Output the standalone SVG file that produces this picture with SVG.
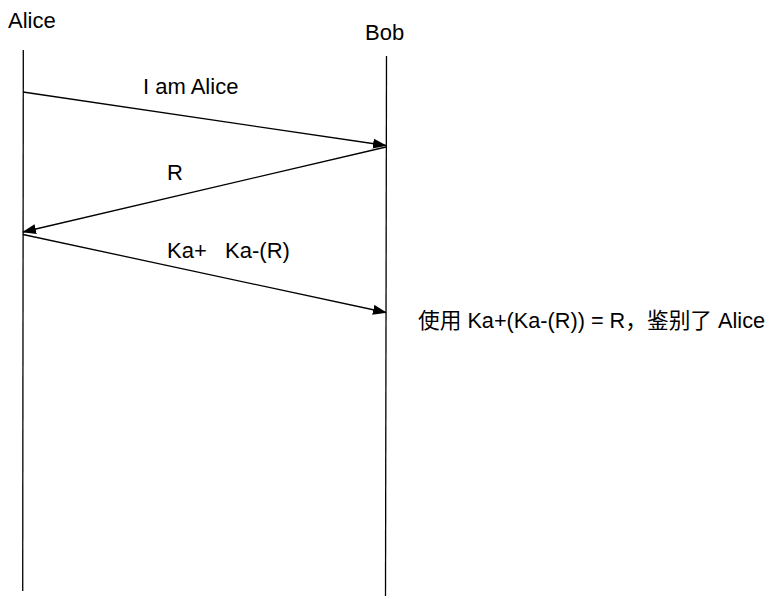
<svg xmlns="http://www.w3.org/2000/svg" width="774" height="599" viewBox="0 0 774 599">
  <style>
    .t { font-family: "Liberation Sans", Arial, "Noto Sans CJK SC", sans-serif; font-size: 22px; fill: #000; }
    .note { font-size: 21.7px; }
    .life { stroke: #000; stroke-width: 1.3; fill: none; }
    .msg { stroke: #000; stroke-width: 1.3; fill: none; marker-end: url(#arrow); }
  </style>
  <defs>
    <marker id="arrow" viewBox="0 0 14 10" refX="13" refY="5" markerWidth="14" markerHeight="10" markerUnits="userSpaceOnUse" orient="auto">
      <path d="M0,0 L14,5 L0,10 Z" fill="#000"/>
    </marker>
  </defs>
  <rect width="774" height="599" fill="#fff"/>
  <g id="alice">
    <text class="t" x="8" y="28">Alice</text>
    <line class="life" x1="23.3" y1="50" x2="22.7" y2="591"/>
  </g>
  <g id="bob">
    <text class="t" x="365" y="40">Bob</text>
    <line class="life" x1="386.5" y1="56" x2="385.5" y2="596"/>
  </g>
  <g id="connectors">
    <line class="msg" x1="23" y1="92" x2="386" y2="145.5"/>
    <line class="msg" x1="386" y1="147" x2="23" y2="232"/>
    <line class="msg" x1="23" y1="234.5" x2="386" y2="312.5"/>
  </g>
  <g id="labels">
    <text class="t" x="143" y="94">I am Alice</text>
    <text class="t" x="167" y="180">R</text>
    <text class="t" x="167" y="258" xml:space="preserve">Ka+   Ka-(R)</text>
  </g>
  <g id="note">
    <text class="t note" x="418" y="328">使用 Ka+(Ka-(R)) = R，鉴别了 Alice</text>
  </g>
</svg>
